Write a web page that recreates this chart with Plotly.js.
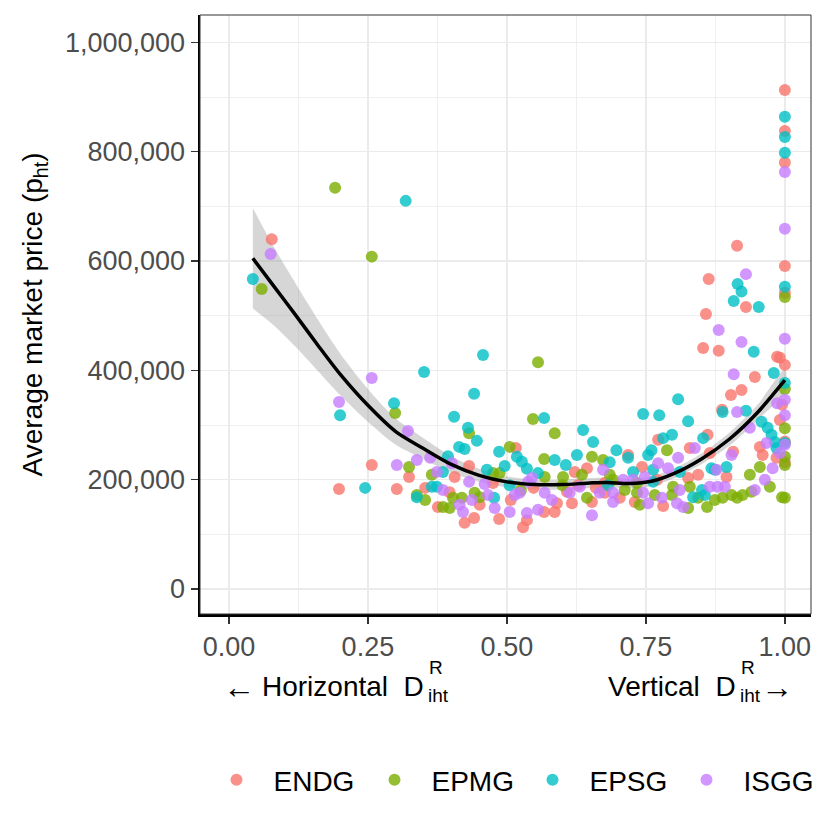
<!DOCTYPE html>
<html>
<head>
<meta charset="utf-8">
<script src="https://cdn.plot.ly/plotly-3.0.1.min.js"></script>
<style>
  html, body { margin: 0; padding: 0; background: #fff; }
  #chart { width: 830px; height: 830px; }
</style>
</head>
<body>
<div id="chart"></div>
<script>
// groups shown in the legend
const groups = ["ENDG", "EPMG", "EPSG", "ISGG"];
const groupColors = ["#F8766D", "#7CAE00", "#00BFC4", "#C77CFF"];

// D^R_iht share (x) and average market price in thousands (y), per group
const endgX = [0.077,0.198,0.257,0.302,0.324,0.353,0.376,0.406,0.397,0.424,0.441,0.451,0.432,0.475,0.486,0.507,0.516,0.529,0.536,0.548,0.567,0.586,0.590,0.608,0.617,0.622,0.628,0.644,0.653,0.660,0.676,0.676,0.703,0.718,0.730,0.743,0.770,0.772,0.781,0.826,0.829,0.844,0.861,0.865,0.895,0.907,0.955,0.960,0.887,0.903,0.922,0.853,0.881,0.858,0.863,0.914,0.930,0.946,0.986,0.991,0.995,0.991,0.985,1.0,1.0,1.0,1.0,1.0,1.0,1.0,1.0];
const endgY = [640,183,227,183,205,185,150,205,177,121,130,154,225,194,128,163,258,113,126,185,141,141,157,178,157,214,190,221,159,185,176,194,167,245,159,223,200,273,152,203,258,209,282,249,205,251,260,245,328,355,364,441,436,503,567,628,516,388,425,423,337,309,240,410,232,270,542,591,780,838,913];

const epmgX = [0.059,0.191,0.257,0.299,0.324,0.338,0.365,0.353,0.385,0.397,0.403,0.419,0.442,0.451,0.432,0.475,0.487,0.505,0.525,0.547,0.556,0.586,0.567,0.568,0.600,0.601,0.635,0.644,0.653,0.673,0.685,0.691,0.712,0.734,0.734,0.739,0.766,0.788,0.797,0.799,0.826,0.829,0.844,0.860,0.874,0.888,0.904,0.914,0.924,0.940,0.937,0.955,0.973,0.995,1.0,1.0,1.0,1.0,1.0,1.0];
const epmgY = [549,734,608,322,223,172,209,163,150,148,167,167,176,168,285,212,212,260,180,311,415,285,238,205,190,205,209,167,242,236,209,200,181,194,176,154,172,254,172,187,148,187,167,150,163,167,172,167,172,178,209,223,187,168,167,227,242,294,366,534];

const epsgX = [0.043,0.200,0.245,0.297,0.318,0.338,0.365,0.374,0.385,0.351,0.394,0.405,0.414,0.424,0.430,0.441,0.446,0.457,0.464,0.477,0.486,0.496,0.505,0.518,0.527,0.536,0.556,0.567,0.586,0.606,0.626,0.637,0.655,0.682,0.685,0.697,0.718,0.727,0.745,0.754,0.760,0.763,0.763,0.774,0.781,0.797,0.808,0.811,0.826,0.835,0.851,0.853,0.856,0.868,0.874,0.888,0.895,0.908,0.915,0.922,0.930,0.944,0.953,0.958,0.969,0.976,0.982,0.985,0.980,1.0,1.0,1.0,1.0,1.0,1.0];
const epsgY = [567,318,185,340,710,168,187,187,214,397,243,315,260,256,295,357,271,428,218,167,251,225,190,242,233,220,212,313,236,227,245,291,269,190,232,254,240,214,320,245,254,218,196,318,276,282,347,214,307,168,181,276,172,221,218,324,223,527,558,544,326,434,516,306,295,282,269,258,395,267,377,553,798,827,864];

const isggX = [0.075,0.198,0.257,0.302,0.322,0.338,0.362,0.374,0.385,0.401,0.415,0.421,0.432,0.437,0.460,0.466,0.478,0.505,0.514,0.523,0.536,0.538,0.545,0.556,0.568,0.581,0.613,0.631,0.653,0.667,0.673,0.691,0.691,0.709,0.727,0.745,0.748,0.754,0.772,0.779,0.790,0.806,0.808,0.811,0.817,0.838,0.865,0.877,0.879,0.881,0.892,0.904,0.908,0.914,0.922,0.930,0.937,0.946,0.964,0.967,0.978,0.986,0.991,1.0,1.0,1.0,1.0,1.0,1.0];
const isggY = [613,342,386,227,289,236,240,214,181,230,154,141,196,163,192,172,148,141,172,176,139,196,203,145,176,163,176,187,135,176,218,159,176,200,200,176,205,157,230,167,221,157,240,181,150,258,187,218,187,474,187,245,393,324,452,576,295,181,200,267,221,340,249,264,318,346,458,659,763];

// smoothed fit and its confidence band (thousands)
const fitX = [0.043,0.08,0.12,0.16,0.2,0.25,0.3,0.35,0.4,0.45,0.5,0.55,0.6,0.65,0.68,0.72,0.76,0.8,0.85,0.9,0.95,1.0];
const fitY = [605,555,501,446,393,336,288,257,228,208,196,191,191,194,195,193,197,211,238,274,322,382];
const fitUpper = [697,627,559,493,431,366,312,276,243,220,206,200,200,203,204,202,206,220,248,286,336,402];
const fitLower = [513,483,443,399,355,306,264,238,213,196,186,182,182,185,186,184,188,202,228,262,308,362];

const xTickVals = [0, 0.25, 0.5, 0.75, 1];
const yTickVals = [0, 200000, 400000, 600000, 800000, 1000000];

const FONT = "Liberation Sans, Arial, Helvetica, sans-serif";
const k = v => v * 1000;

const seriesX = [endgX, epmgX, epsgX, isggX];
const seriesY = [endgY, epmgY, epsgY, isggY];

// one legend per group so each key sits where ggplot put it
const legendKeyX = [237, 395, 553, 707];
const legendName = i => i === 0 ? "legend" : "legend" + (i + 1);

const traces = [];

// band first so it sits under the points
traces.push({
    x: fitX.concat(fitX.slice().reverse()),
    y: fitUpper.map(k).concat(fitLower.slice().reverse().map(k)),
    type: "scatter", mode: "lines",
    fill: "toself", fillcolor: "rgba(153,153,153,0.4)",
    line: {width: 0, shape: "spline", smoothing: 0.8}, hoverinfo: "skip", showlegend: false
});

groups.forEach((g, i) => {
    traces.push({
        x: seriesX[i], y: seriesY[i].map(k),
        type: "scatter", mode: "markers", name: g,
        legend: legendName(i),
        marker: {color: groupColors[i], size: 12, opacity: 0.8, line: {width: 0}}
    });
});

traces.push({
    x: fitX, y: fitY.map(k),
    type: "scatter", mode: "lines",
    line: {color: "#000", width: 3.5, shape: "spline", smoothing: 0.8},
    hoverinfo: "skip", showlegend: false
});

// px helpers for the plot box: x 200..811, y 15..614
const L = 200, R = 811, T = 15, B = 614;
const px = v => (v - L) / (R - L);
const py = v => (B - v) / (B - T);

const ann = (text, x, y, xanchor, size) => ({
    text: text, xref: "paper", yref: "paper", x: px(x), y: py(y),
    xanchor: xanchor, yanchor: "middle", showarrow: false,
    font: {family: FONT, size: size, color: "#000"}
});

const grid = "#EBEBEB";

const layout = {
    width: 830, height: 830,
    margin: {l: L, r: 830 - R, t: T, b: 830 - B},
    paper_bgcolor: "#fff", plot_bgcolor: "#fff",
    font: {family: FONT},
    xaxis: {
        range: [-0.052, 1.047],
        tickvals: xTickVals, tickformat: ".2f",
        showgrid: true, gridcolor: grid, gridwidth: 1.6,
        minor: {dtick: 0.125, tick0: 0.125, showgrid: true, gridcolor: grid, gridwidth: 0.8, ticks: ""},
        zeroline: false,
        showline: true, linecolor: "#000", linewidth: 2.5,
        ticks: "outside", ticklen: 7, tickwidth: 1.5, tickcolor: "#333",
        tickfont: {family: FONT, size: 27, color: "#4D4D4D"}
    },
    yaxis: {
        range: [-45700, 1050000],
        tickvals: yTickVals, tickformat: ",d",
        showgrid: true, gridcolor: grid, gridwidth: 1.6,
        minor: {dtick: 200000, tick0: 100000, showgrid: true, gridcolor: grid, gridwidth: 0.8, ticks: ""},
        zeroline: false,
        showline: true, linecolor: "#000", linewidth: 2.5,
        ticks: "outside", ticklen: 7, tickwidth: 1.5, tickcolor: "#333",
        tickfont: {family: FONT, size: 27, color: "#4D4D4D"},
        title: {text: "Average market price (p<sub>ht</sub>)", font: {family: FONT, size: 28, color: "#000"}, standoff: 14}
    },
    shapes: [{
        type: "rect", xref: "paper", yref: "paper", x0: 0, x1: 1, y0: 0, y1: 1,
        line: {color: "#333", width: 1}, layer: "above"
    }],
    annotations: [
        ann("\u2190", 221, 687, "left", 32),
        ann("Horizontal\u00a0\u00a0D", 426, 686, "right", 28),
        ann("R", 427, 667, "left", 19),
        ann("iht", 426, 696, "left", 19),
        ann("Vertical\u00a0\u00a0D", 738, 686, "right", 28),
        ann("R", 739, 667, "left", 19),
        ann("iht", 738, 696, "left", 19),
        ann("\u2192", 759, 687, "left", 32)
    ],
    showlegend: true
};

groups.forEach((g, i) => {
    layout[legendName(i)] = {
        orientation: "h",
        xref: "container", yref: "container",
        x: (legendKeyX[i] - 37.5) / 830, y: 1 - 780 / 830,
        xanchor: "left", yanchor: "middle",
        font: {family: FONT, size: 28, color: "#000"},
        itemwidth: 64,
        bgcolor: "rgba(0,0,0,0)"
    };
});

Plotly.newPlot("chart", traces, layout, {displayModeBar: false, staticPlot: true});
</script>
</body>
</html>
